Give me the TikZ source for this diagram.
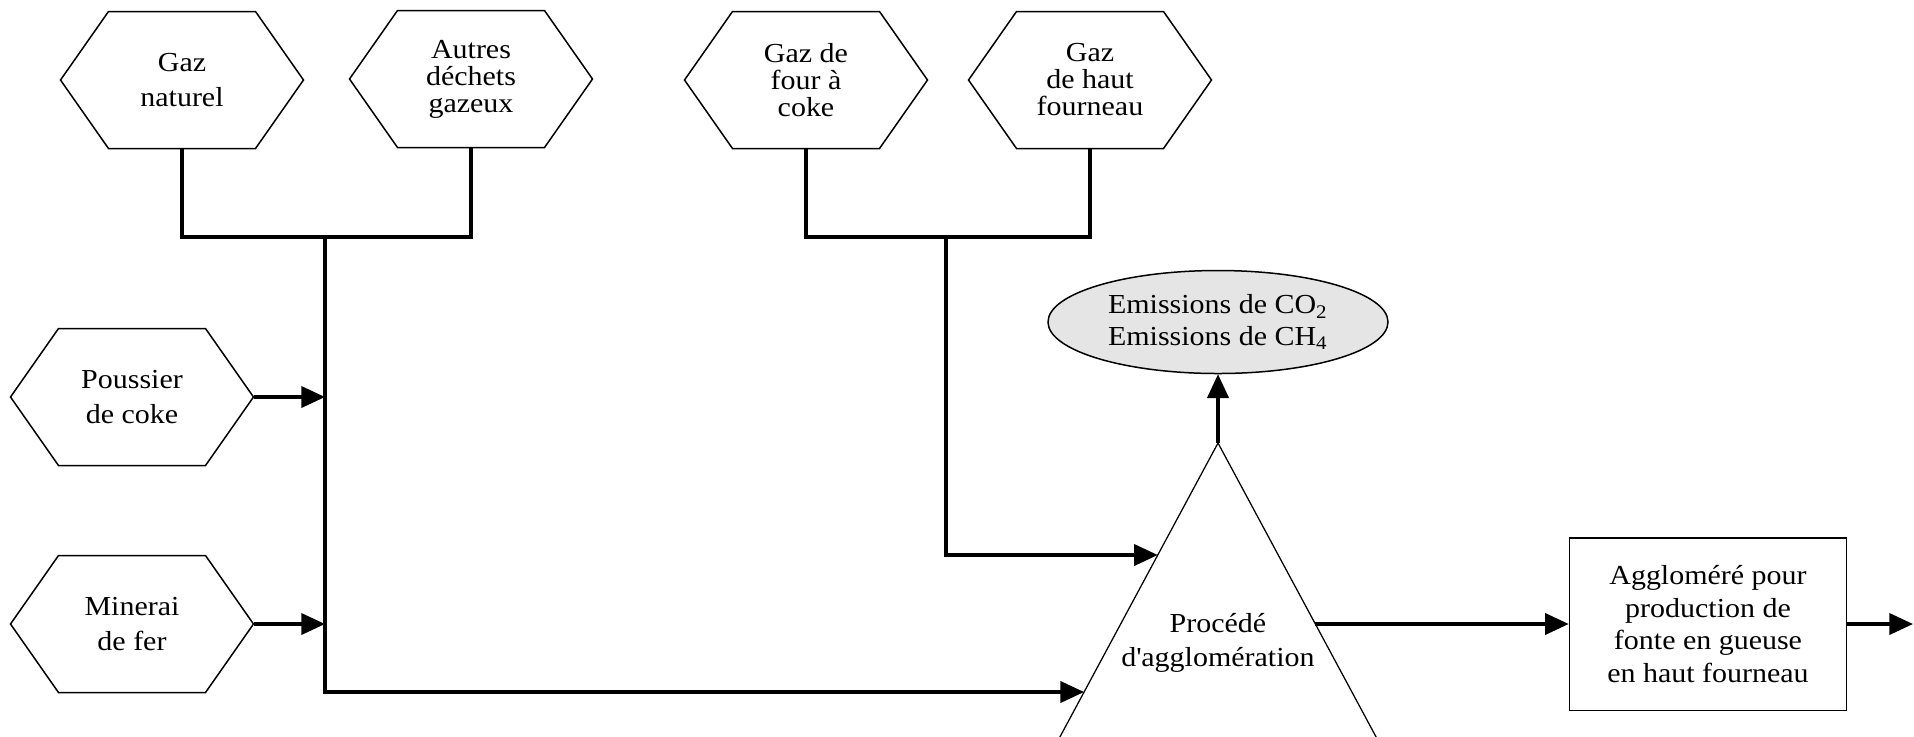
\documentclass[tikz,border=0pt]{standalone}
\usepackage{fontspec}
\setmainfont{Liberation Serif}[FakeStretch=1.09]
\usetikzlibrary{arrows.meta,shapes.geometric,calc}
\begin{document}
\begin{tikzpicture}[x=0.4pt,y=-0.4pt,
  hexa/.style={inner sep=0pt, minimum width=96.8pt, minimum height=54.4pt, align=center, font=\fontsize{11}{14}\selectfont},
  tight/.style={font=\fontsize{11}{10.8}\selectfont},
  conn/.style={line width=1.3pt},
  arr/.style={conn,-{Triangle[length=9.5pt,width=8.5pt]}},
  hexline/.style={line width=0.6pt, line join=miter},
]
\useasboundingbox (0,0) rectangle (1914,736);

% input hexagons
\node[hexa] (gn) at (182,80) {Gaz\\naturel};
\node[hexa,tight] (ad) at (471,79) {Autres\\déchets\\gazeux};
\node[hexa,tight] (gf) at (806,80) {Gaz de\\four à\\coke};
\node[hexa,tight] (gh) at (1090,80) {Gaz\\de haut\\fourneau};
\node[hexa] (pc) at (132,397) {Poussier\\de coke};
\node[hexa] (mf) at (132,624) {Minerai\\de fer};
\foreach \n in {gn,ad,gf,gh,pc,mf}{
  \draw[hexline] (\n.west) -- ([xshift=19.2pt]\n.north west) -- ([xshift=-19.2pt]\n.north east)
     -- (\n.east) -- ([xshift=-19.2pt]\n.south east) -- ([xshift=19.2pt]\n.south west) -- cycle;
}

% process triangle (cut by the lower edge)
\coordinate (apex) at (1218,443);
\coordinate (bl) at (1026,800);
\coordinate (br) at (1410,800);
\begin{scope}
  \clip (0,0) rectangle (1914,736);
  \draw[line width=0.5pt] (bl) -- (apex) -- (br);
\end{scope}
\node[align=center, inner sep=0pt, font=\fontsize{11}{13.8}\selectfont] (tri) at (1218,643) {Procédé\\d\textquotesingle agglomération};
\coordinate (tin1) at ($(apex)!{112/357}!(bl)$);
\coordinate (tin2) at ($(apex)!{249/357}!(bl)$);
\coordinate (tout) at ($(apex)!{181/357}!(br)$);

% emissions
\node[ellipse, draw, line width=0.6pt, fill=gray!20, minimum width=136pt, minimum height=41.2pt,
      inner sep=0pt, align=center, font=\fontsize{11}{12.4}\selectfont] (em) at (1218,322)
      {Emissions de CO\textsubscript{2}\\Emissions de CH\textsubscript{4}};

% product box
\node[draw, line width=0.6pt, minimum width=110.8pt, minimum height=69pt, inner sep=0pt,
      align=center, font=\fontsize{11}{13}\selectfont] (box) at (1708,624)
      {Aggloméré pour\\production de\\fonte en gueuse\\en haut fourneau};
\coordinate (out) at (1913,624);

% junctions
\coordinate (j1) at (325,237);
\coordinate (j2) at (946,237);

% connectors
\draw[conn] (gn.south) |- (j1) -| (ad.south);
\draw[arr] (j1) |- (tin2);
\draw[arr] (pc.east) -- (pc.east -| j1);
\draw[arr] (mf.east) -- (mf.east -| j1);
\draw[conn] (gf.south) |- (j2) -| (gh.south);
\draw[arr] (j2) |- (tin1);
\draw[arr] (apex) -- (em.south);
\draw[arr] (tout) -- (box.west |- tout);
\draw[arr] (box.east) -- (out);
\end{tikzpicture}
\end{document}
